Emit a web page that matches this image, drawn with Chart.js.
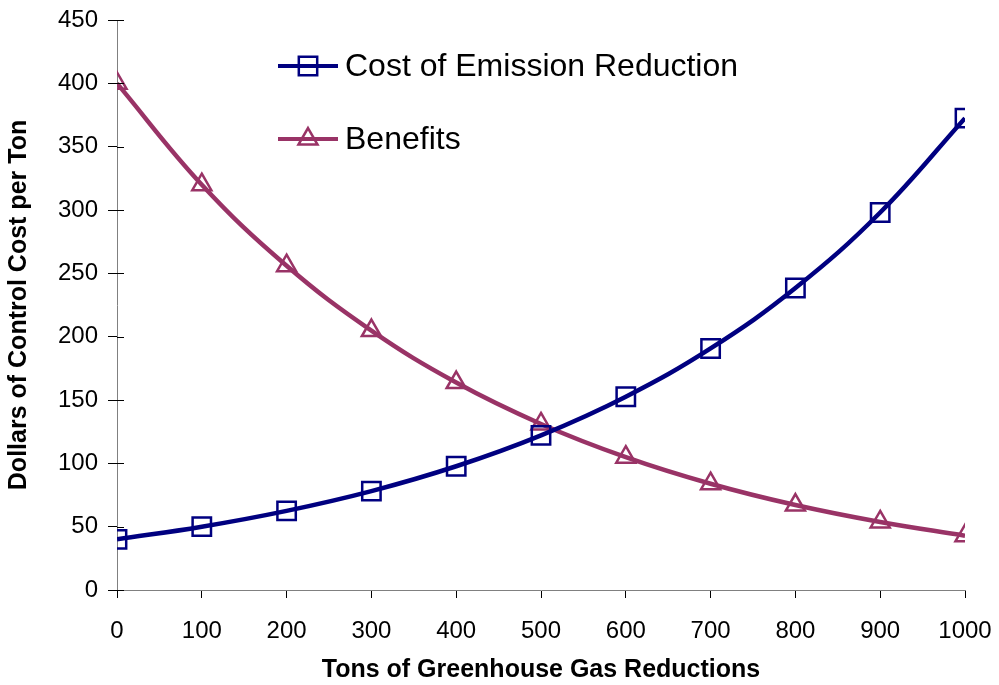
<!DOCTYPE html>
<html>
<head>
<meta charset="utf-8">
<script src="https://cdn.jsdelivr.net/npm/chart.js@4"></script>
<style>
  html, body { margin: 0; padding: 0; background: #fff; }
  #wrap { width: 999px; height: 685px; }
</style>
</head>
<body>
<div id="wrap"><canvas id="chart"></canvas></div>
<script>
const tons = [0, 100, 200, 300, 400, 500, 600, 700, 800, 900, 1000];
const costValues = [40, 50, 62.5, 78.1, 97.7, 122.1, 152.6, 190.7, 238.4, 298.0, 372.5];
const benefitValues = [400, 320, 256, 204.8, 163.8, 131.1, 104.9, 83.9, 67.1, 53.7, 42.9];
const seriesNames = ["Cost of Emission Reduction", "Benefits"];

const navy = "#000080";
const plum = "#993366";
const fontFamily = "'Liberation Sans', Arial, sans-serif";

// legend drawn by hand: line + hollow marker + label, inside the plot
const customLegend = {
  id: "customLegend",
  afterDraw(chart) {
    const ctx = chart.ctx;
    const items = [
      { text: seriesNames[0], color: navy, style: "rect", r: 13, y: 66 },
      { text: seriesNames[1], color: plum, style: "triangle", r: 11, y: 139 },
    ];
    ctx.save();
    items.forEach((it) => {
      ctx.strokeStyle = it.color;
      ctx.lineWidth = 4;
      ctx.beginPath();
      ctx.moveTo(278, it.y);
      ctx.lineTo(338, it.y);
      ctx.stroke();
      ctx.lineWidth = 2.5;
      ctx.fillStyle = "rgba(0,0,0,0)";
      Chart.helpers.drawPoint(ctx, { pointStyle: it.style, radius: it.r, borderWidth: 2.5 }, 308, it.y);
      ctx.fillStyle = "#000";
      ctx.font = "32px " + fontFamily;
      ctx.textBaseline = "middle";
      ctx.fillText(it.text, 345, it.y + 1);
    });
    ctx.restore();
  },
};

// y ticks cross the axis: draw the inner halves
const innerTicks = {
  id: "innerTicks",
  afterDatasetsDraw(chart) {
    const ctx = chart.ctx;
    const y = chart.scales.y;
    ctx.save();
    ctx.strokeStyle = "#000";
    ctx.lineWidth = 1;
    y.ticks.forEach((t) => {
      const py = Math.round(y.getPixelForValue(t.value)) + 0.5;
      ctx.beginPath();
      ctx.moveTo(y.right, py);
      ctx.lineTo(y.right + 7, py);
      ctx.stroke();
    });
    ctx.restore();
  },
};

new Chart(document.getElementById("chart"), {
  type: "line",
  data: {
    datasets: [
      {
        label: seriesNames[0],
        data: tons.map((x, i) => ({ x: x, y: costValues[i] })),
        borderColor: navy,
        backgroundColor: "transparent",
        borderWidth: 4.5,
        tension: 0.4,
        pointStyle: "rect",
        pointRadius: 13,
        pointBorderWidth: 2.5,
        pointBorderColor: navy,
        pointBackgroundColor: "transparent",
      },
      {
        label: seriesNames[1],
        data: tons.map((x, i) => ({ x: x, y: benefitValues[i] })),
        borderColor: plum,
        backgroundColor: "transparent",
        borderWidth: 4.5,
        tension: 0.4,
        pointStyle: "triangle",
        pointRadius: 11,
        pointBorderWidth: 2.5,
        pointBorderColor: plum,
        pointBackgroundColor: "transparent",
      },
    ],
  },
  plugins: [customLegend, innerTicks],
  options: {
    responsive: true,
    maintainAspectRatio: false,
    animation: false,
    layout: { padding: { top: 20, right: 34, left: 0, bottom: 0 } },
    plugins: {
      legend: { display: false },
      tooltip: { enabled: false },
    },
    scales: {
      x: {
        type: "linear",
        min: 0,
        max: 1000,
        ticks: {
          stepSize: 100,
          color: "#000",
          padding: 19,
          font: { family: fontFamily, size: 24 },
          callback: (v) => String(v),
        },
        grid: { drawOnChartArea: false, tickLength: 8, color: "#000" },
        border: { color: "#808080", width: 1 },
        title: {
          display: true,
          text: "Tons of Greenhouse Gas Reductions",
          color: "#000",
          font: { family: fontFamily, size: 25, weight: "bold" },
          padding: { top: 14, bottom: 0 },
        },
        afterFit(scale) {
          scale.height = 95;
          scale.paddingLeft = 0;
          scale.paddingRight = 0;
        },
      },
      y: {
        min: 0,
        max: 450,
        ticks: {
          stepSize: 50,
          color: "#000",
          padding: 10,
          font: { family: fontFamily, size: 24 },
        },
        grid: { drawOnChartArea: false, tickLength: 9, color: "#000" },
        border: { color: "#808080", width: 1 },
        title: {
          display: true,
          text: "Dollars of Control Cost per Ton",
          color: "#000",
          font: { family: fontFamily, size: 25, weight: "bold" },
          padding: { top: 4, bottom: 2 },
        },
        afterFit(scale) {
          scale.width = 117;
          scale.paddingTop = 0;
          scale.paddingBottom = 0;
        },
      },
    },
  },
});
</script>
</body>
</html>
